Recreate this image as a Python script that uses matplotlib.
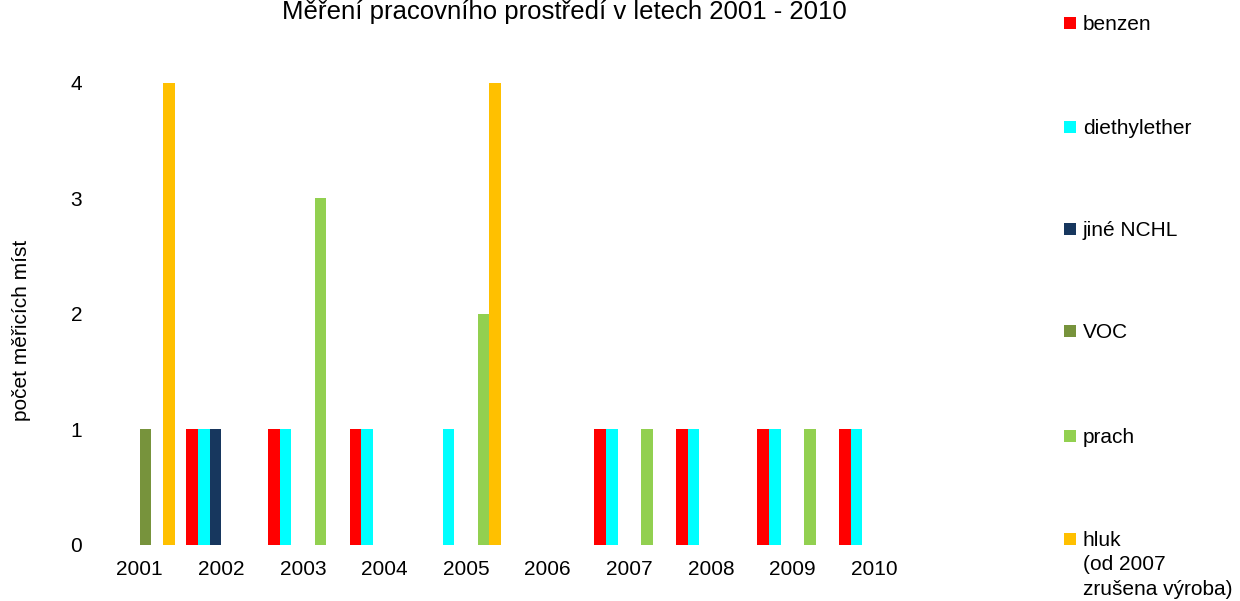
import numpy as np
import matplotlib.pyplot as plt
from matplotlib.patches import Rectangle

plt.rcParams['font.family'] = ['Liberation Sans', 'DejaVu Sans']

years = ['2001', '2002', '2003', '2004', '2005', '2006', '2007', '2008', '2009', '2010']
series = ['benzen', 'diethylether', 'jiné NCHL', 'VOC', 'prach', 'hluk\n(od 2007\nzrušena výroba)']
colors = ['#FF0000', '#00FFFF', '#17375E', '#77933C', '#92D050', '#FFC000']

benzen = [0, 1, 1, 1, 0, 0, 1, 1, 1, 1]
diethylether = [0, 1, 1, 1, 1, 0, 1, 1, 1, 1]
jine_nchl = [0, 1, 0, 0, 0, 0, 0, 0, 0, 0]
voc = [1, 0, 0, 0, 0, 0, 0, 0, 0, 0]
prach = [0, 0, 3, 0, 2, 0, 1, 0, 1, 0]
hluk = [4, 0, 0, 0, 4, 0, 0, 0, 0, 0]
values = [benzen, diethylether, jine_nchl, voc, prach, hluk]

fig = plt.figure(figsize=(12.4, 6.01), dpi=100)
ax = fig.add_axes([0.0798, 0.0932, 0.658, 0.769])

x = np.arange(len(years))
w = 0.143
for k, (vals, c) in enumerate(zip(values, colors)):
    ax.bar(x + (k - 2.5) * w, vals, width=w, color=c, linewidth=0)

ax.set_xlim(-0.5, len(years) - 0.5)
ax.set_ylim(0, 4)
ax.set_yticks([0, 1, 2, 3, 4])
ax.set_xticks(x)
ax.set_xticklabels(years)
ax.tick_params(axis='both', length=0, labelsize=15)
ax.tick_params(axis='x', pad=11)
ax.tick_params(axis='y', pad=12)
for s in ax.spines.values():
    s.set_visible(False)

ax.set_ylabel('počet měřicích míst', fontsize=15)
ax.yaxis.set_label_coords(-0.083, 0.465)

# title sits at the very top edge, as in the original
fig.text(564 / 1240, 1 - 19 / 601, 'Měření pracovního prostředí v letech 2001 - 2010',
         ha='center', va='baseline', fontsize=18.5)

# legend drawn by hand, marker aligned with first line
leg_y = [23, 127, 229, 331, 436, 539]
for lbl, c, yy in zip(series, colors, leg_y):
    fy = 1 - yy / 601
    fig.add_artist(Rectangle((1064 / 1240, fy - 6 / 601), 12 / 1240, 12 / 601,
                             transform=fig.transFigure, color=c, lw=0))
    fig.text(1083 / 1240, fy + 8 / 601, lbl, ha='left', va='top', fontsize=15,
             linespacing=1.36)

plt.savefig('out.png', dpi=100)
